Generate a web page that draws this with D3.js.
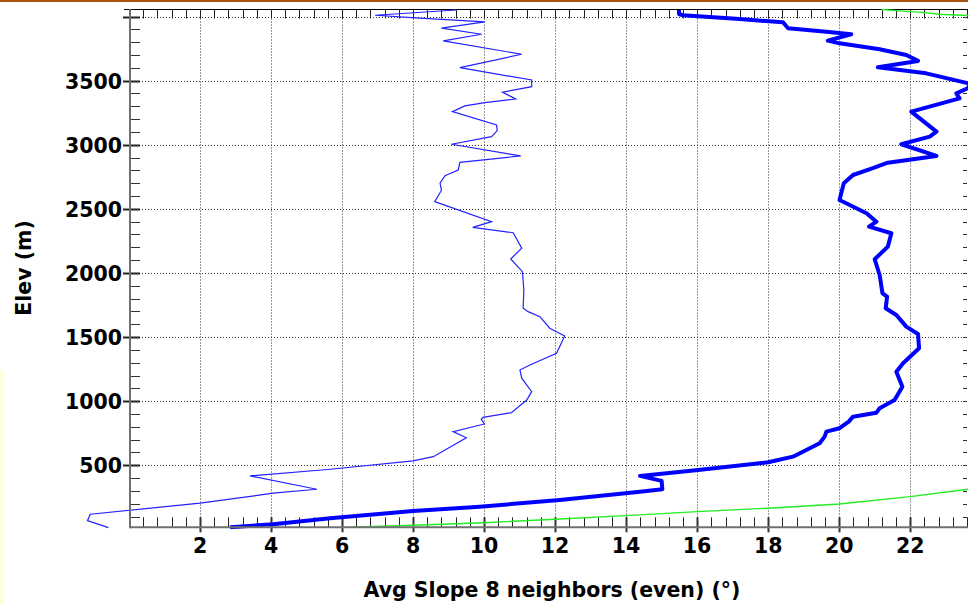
<!DOCTYPE html>
<html>
<head>
<meta charset="utf-8">
<script src="https://cdn.jsdelivr.net/npm/d3@7"></script>
<style>
  html, body { margin: 0; padding: 0; background: #fff; overflow: hidden; }
  svg { display: block; }
  text { font-family: "DejaVu Sans", Verdana, sans-serif; font-weight: bold; fill: #000; }
</style>
</head>
<body>
<svg id="chart" width="968" height="605"></svg>
<script>
// ---- Data (slope in degrees, elevation in metres) ----
const xTicks = [2, 4, 6, 8, 10, 12, 14, 16, 18, 20, 22];
const yTicks = [500, 1000, 1500, 2000, 2500, 3000, 3500, 4000];
const yTickLabels = ["500", "1000", "1500", "2000", "2500", "3000", "3500", ""];
const xTitle = "Avg Slope 8 neighbors (even) (°)";
const yTitle = "Elev (m)";

// thin line: [slope, elev]
const thinSlope = [9.22, 6.93, 8.19, 10.02, 8.80, 9.93, 8.85, 11.06, 9.32, 11.34, 11.34, 10.52, 10.89, 10.02, 9.46, 9.11, 10.35, 10.37, 10.21, 9.08, 11.03, 9.32, 9.27, 8.90, 8.76, 8.80, 8.61, 10.21, 9.68, 10.82, 11.06, 10.75, 11.08, 11.12, 11.10, 11.24, 11.57, 11.85, 12.27, 12.04, 11.29, 11.01, 11.06, 11.34, 11.20, 10.77, 9.97, 9.92, 10.01, 9.13, 9.50, 8.57, 8.00, 5.67, 3.41, 5.29, 4.06, 2.00, -1.09, -1.17, -0.58];
const thinElev  = [4051, 4010, 3987, 3958, 3909, 3862, 3810, 3706, 3601, 3505, 3453, 3410, 3357, 3328, 3303, 3258, 3154, 3110, 3063, 3004, 2913, 2863, 2803, 2759, 2700, 2645, 2556, 2400, 2356, 2314, 2193, 2109, 2010, 1867, 1725, 1698, 1659, 1569, 1509, 1374, 1282, 1243, 1179, 1074, 1009, 910, 874, 858, 822, 762, 715, 567, 534, 469, 417, 313, 282, 204, 118, 68, 13];

// thick line: [slope, elev]
const thickSlope = [15.49, 15.49, 15.60, 17.20, 18.42, 18.56, 19.64, 20.34, 19.68, 20.01, 21.14, 21.89, 22.22, 21.09, 22.45, 23.70, 23.62, 23.30, 23.39, 22.03, 22.74, 22.55, 21.75, 22.74, 21.37, 20.95, 20.39, 20.13, 20.01, 20.77, 21.05, 20.84, 21.47, 21.37, 21.00, 21.14, 21.22, 21.35, 21.31, 21.61, 21.89, 22.22, 22.25, 21.80, 21.61, 21.78, 21.56, 21.14, 21.05, 20.39, 20.27, 20.01, 19.64, 19.59, 19.45, 18.70, 18.00, 16.03, 14.39, 15.00, 15.02, 14.39, 12.13, 9.88, 8.00, 5.66, 4.06, 2.85];
const thickElev  = [4052, 4020, 4010, 3980, 3955, 3909, 3882, 3862, 3812, 3791, 3745, 3700, 3654, 3604, 3557, 3475, 3441, 3401, 3362, 3258, 3102, 3063, 3004, 2913, 2860, 2817, 2764, 2700, 2569, 2466, 2400, 2361, 2310, 2205, 2107, 1984, 1841, 1815, 1725, 1672, 1581, 1524, 1413, 1296, 1230, 1113, 1009, 945, 910, 879, 840, 789, 762, 723, 672, 567, 523, 463, 417, 378, 313, 294, 229, 177, 144, 87, 40, 16];

// green line (two visible pieces, null = break)
const greenSlope = [6.26, 8.00, 10.00, 12.00, 14.00, 16.00, 18.00, 20.00, 22.00, 23.65, null, 21.19, 21.60, 22.40, 22.80, 23.65];
const greenElev  = [16, 32, 52, 79, 107, 138, 165, 198, 255, 313, null, 4055, 4046, 4031, 4018, 4008];

// ---- Layout ----
const W = 968, H = 605;
const plot = { left: 130, right: 967, top: 9.5, bottom: 527.3 };

const svg = d3.select("#chart");

const x = d3.scaleLinear().domain([0, 23.6]).range([129, 967]);
const y = d3.scaleLinear().domain([16, 4055]).range([527.3, 9.5]);

// screenshot decorations
svg.append("rect").attr("x", 0).attr("y", 0).attr("width", W).attr("height", 2).attr("fill", "#a65410");
svg.append("rect").attr("x", 0).attr("y", 370).attr("width", 4).attr("height", 235).attr("fill", "#ffffdc");

// grid
const grid = svg.append("g");
grid.selectAll(".vg").data(xTicks).join("line")
  .attr("x1", d => Math.round(x(d)) + 0.5).attr("x2", d => Math.round(x(d)) + 0.5)
  .attr("y1", plot.top).attr("y2", plot.bottom)
  .attr("stroke", "#333").attr("stroke-width", 1).attr("stroke-dasharray", "1,2");
grid.selectAll(".hg").data(yTicks).join("line")
  .attr("x1", plot.left).attr("x2", plot.right)
  .attr("y1", d => Math.round(y(d)) + 0.5).attr("y2", d => Math.round(y(d)) + 0.5)
  .attr("stroke", "#333").attr("stroke-width", 1).attr("stroke-dasharray", "1,2");

// minor ticks
const xMinor = d3.range(0.4, 23.6, 0.4);
const yMinor = d3.range(100, 4055, 100);
const ticks = svg.append("g");
ticks.selectAll(".bm").data(xMinor).join("line")
  .attr("x1", d => Math.round(x(d)) + 0.5).attr("x2", d => Math.round(x(d)) + 0.5)
  .attr("y1", plot.bottom).attr("y2", plot.bottom - 10)
  .attr("stroke", "#222").attr("stroke-width", 1);
ticks.selectAll(".tm").data(xMinor).join("line")
  .attr("x1", d => Math.round(x(d)) + 0.5).attr("x2", d => Math.round(x(d)) + 0.5)
  .attr("y1", plot.top).attr("y2", plot.top + 9)
  .attr("stroke", "#222").attr("stroke-width", 1);
ticks.selectAll(".lm").data(yMinor).join("line")
  .attr("x1", plot.left).attr("x2", plot.left + 10)
  .attr("y1", d => Math.round(y(d)) + 0.5).attr("y2", d => Math.round(y(d)) + 0.5)
  .attr("stroke", "#333").attr("stroke-width", 1);
ticks.selectAll(".rm").data(yMinor).join("line")
  .attr("x1", plot.right - 4).attr("x2", plot.right)
  .attr("y1", d => Math.round(y(d)) + 0.5).attr("y2", d => Math.round(y(d)) + 0.5)
  .attr("stroke", "#333").attr("stroke-width", 1);

// frame: top black line
svg.append("line").attr("x1", 124).attr("x2", W).attr("y1", 9.5).attr("y2", 9.5)
  .attr("stroke", "#000").attr("stroke-width", 1.2);

// data lines
const line = d3.line()
  .defined(d => d[0] !== null)
  .x(d => x(d[0])).y(d => y(d[1]));

const thin = thinSlope.map((s, i) => [s, thinElev[i]]);
const thick = thickSlope.map((s, i) => [s, thickElev[i]]);
const green = greenSlope.map((s, i) => [s, greenElev[i]]);

svg.append("path").datum(green).attr("d", line)
  .attr("fill", "none").attr("stroke", "#22ee22").attr("stroke-width", 1.4);
svg.append("path").datum(thin).attr("d", line)
  .attr("fill", "none").attr("stroke", "#2222ff").attr("stroke-width", 1.2)
  .attr("stroke-linejoin", "miter");
svg.append("path").datum(thick).attr("d", line)
  .attr("fill", "none").attr("stroke", "#0000ff").attr("stroke-width", 4)
  .attr("stroke-linejoin", "round");

// axes lines (gray)
svg.append("line").attr("x1", plot.left).attr("x2", plot.left).attr("y1", 9).attr("y2", plot.bottom + 1)
  .attr("stroke", "#707070").attr("stroke-width", 2);
svg.append("line").attr("x1", plot.left).attr("x2", W).attr("y1", plot.bottom).attr("y2", plot.bottom)
  .attr("stroke", "#707070").attr("stroke-width", 2);

// major ticks
ticks.selectAll(".bM").data(xTicks).join("line")
  .attr("x1", d => Math.round(x(d)) + 0.5).attr("x2", d => Math.round(x(d)) + 0.5)
  .attr("y1", plot.bottom - 10).attr("y2", plot.bottom + 5)
  .attr("stroke", "#333").attr("stroke-width", 2);
ticks.selectAll(".lM").data(yTicks).join("line")
  .attr("x1", plot.left - 7).attr("x2", plot.left + 10)
  .attr("y1", d => Math.round(y(d)) + 0.5).attr("y2", d => Math.round(y(d)) + 0.5)
  .attr("stroke", "#222").attr("stroke-width", 2);

// tick labels
svg.append("g").selectAll("text").data(xTicks).join("text")
  .attr("x", d => x(d)).attr("y", 553)
  .attr("text-anchor", "middle").attr("font-size", 20.5)
  .text(d => d);
svg.append("g").selectAll("text").data(yTicks).join("text")
  .attr("x", 122).attr("y", d => y(d) + 8)
  .attr("text-anchor", "end").attr("font-size", 20.5)
  .text((d, i) => yTickLabels[i]);

// axis titles
svg.append("text").attr("x", 552).attr("y", 597)
  .attr("text-anchor", "middle").attr("font-size", 20.5).text(xTitle);
svg.append("text").attr("transform", "translate(31,268) rotate(-90)")
  .attr("text-anchor", "middle").attr("font-size", 20.5).text(yTitle);
</script>
</body>
</html>
